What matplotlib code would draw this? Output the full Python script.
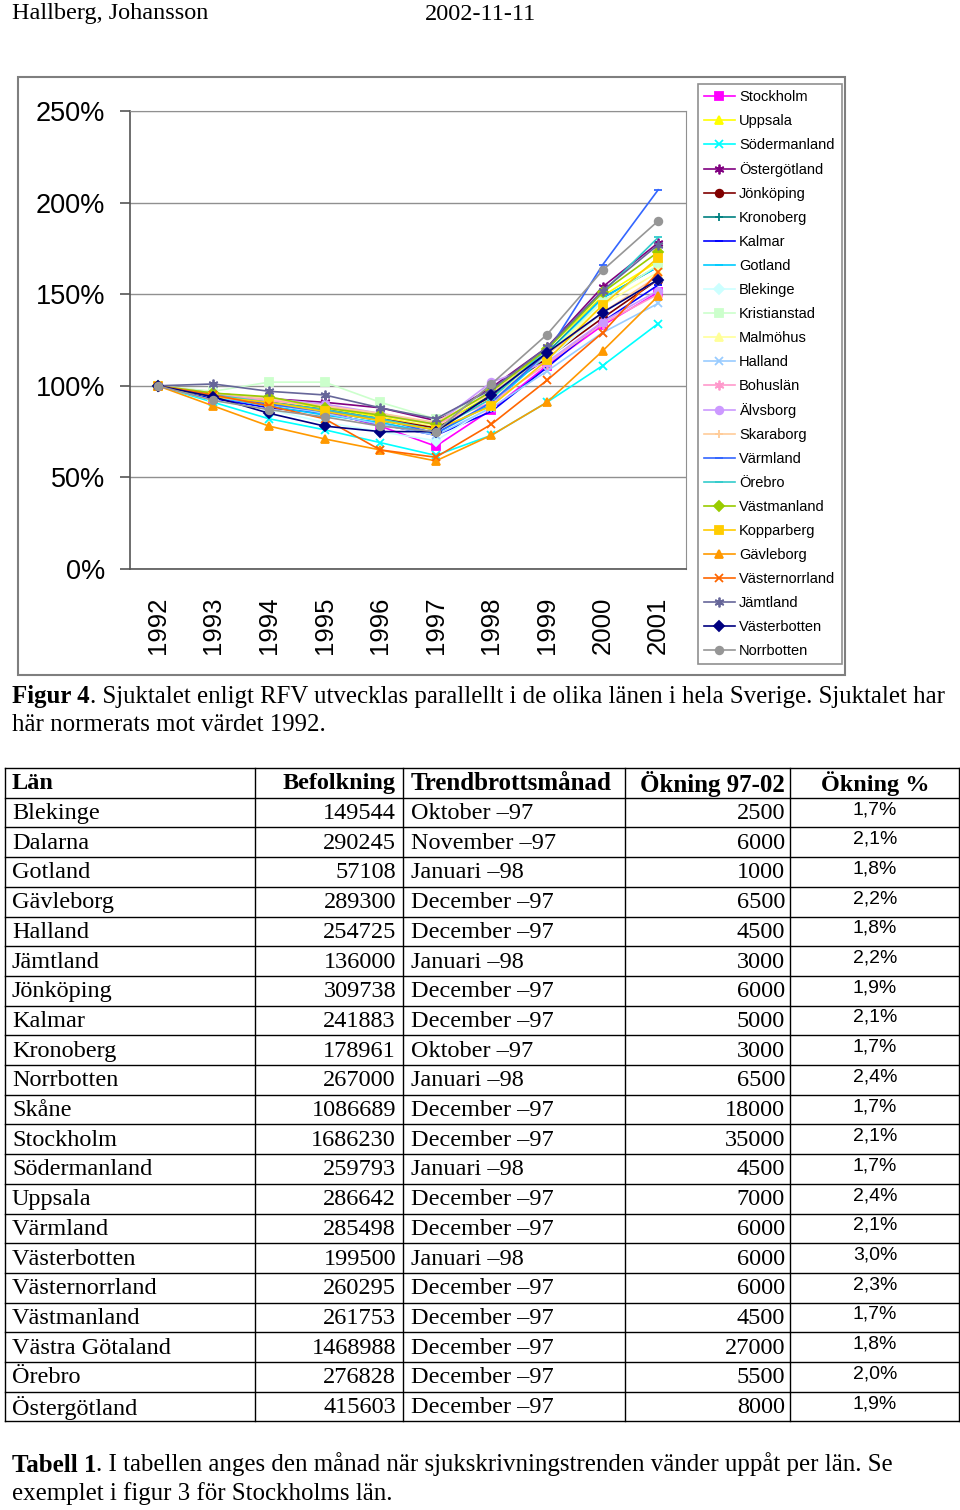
import numpy as np
import matplotlib
matplotlib.use('Agg')
import matplotlib.pyplot as plt
from matplotlib.patches import Rectangle

# ------------------------------------------------------------------
# data: sick-leave rate per county, normalised to 1992 (percent)
# ------------------------------------------------------------------
years = ['1992', '1993', '1994', '1995', '1996', '1997', '1998', '1999', '2000', '2001']

counties = ['Stockholm', 'Uppsala', 'Södermanland', 'Östergötland', 'Jönköping',
            'Kronoberg', 'Kalmar', 'Gotland', 'Blekinge', 'Kristianstad',
            'Malmöhus', 'Halland', 'Bohuslän', 'Älvsborg', 'Skaraborg',
            'Värmland', 'Örebro', 'Västmanland', 'Kopparberg', 'Gävleborg',
            'Västernorrland', 'Jämtland', 'Västerbotten', 'Norrbotten']

stockholm      = [100, 93, 90, 86, 78, 67, 87, 111, 133, 151]
uppsala        = [100, 95, 92, 88, 83, 78, 95, 120, 149, 168]
sodermanland   = [100, 91, 82, 76, 69, 62, 73, 91, 111, 134]
ostergotland   = [100, 96, 93, 91, 88, 81, 99, 121, 154, 178]
jonkoping      = [100, 95, 91, 87, 82, 77, 94, 115, 137, 158]
kronoberg      = [100, 94, 90, 86, 81, 76, 95, 118, 148, 165]
kalmar         = [100, 93, 88, 85, 79, 73, 86, 110, 135, 155]
gotland        = [100, 94, 89, 84, 80, 74, 90, 117, 148, 165]
blekinge       = [100, 92, 87, 80, 75, 70, 89, 114, 140, 158]
kristianstad   = [100, 97, 102, 102, 91, 82, 96, 117, 146, 166]
malmohus       = [100, 95, 92, 89, 84, 78, 93, 117, 144, 162]
halland        = [100, 94, 90, 85, 79, 73, 88, 108, 129, 145]
bohuslan       = [100, 95, 92, 89, 84, 79, 91, 112, 134, 150]
alvsborg       = [100, 96, 93, 90, 85, 79, 102, 113, 135, 152]
skaraborg      = [100, 96, 93, 89, 85, 80, 96, 117, 140, 160]
varmland       = [100, 95, 90, 86, 82, 74, 91, 118, 166, 207]
orebro         = [100, 95, 91, 87, 82, 76, 93, 120, 151, 181]
vastmanland    = [100, 96, 94, 88, 84, 79, 97, 120, 151, 173]
kopparberg     = [100, 94, 91, 86, 81, 76, 89, 114, 144, 170]
gavleborg      = [100, 89, 78, 71, 65, 59, 73, 91, 119, 149]
vasternorrland = [100, 95, 89, 82, 65, 61, 79, 103, 129, 162]
jamtland       = [100, 101, 97, 95, 88, 82, 98, 121, 152, 177]
vasterbotten   = [100, 94, 85, 78, 75, 75, 95, 118, 140, 158]
norrbotten     = [100, 92, 87, 83, 78, 75, 101, 128, 163, 190]

series = [stockholm, uppsala, sodermanland, ostergotland, jonkoping, kronoberg,
          kalmar, gotland, blekinge, kristianstad, malmohus, halland, bohuslan,
          alvsborg, skaraborg, varmland, orebro, vastmanland, kopparberg,
          gavleborg, vasternorrland, jamtland, vasterbotten, norrbotten]

# table data
tab_header = ['Län', 'Befolkning', 'Trendbrottsmånad', 'Ökning 97-02', 'Ökning %']
tab_lan = ['Blekinge', 'Dalarna', 'Gotland', 'Gävleborg', 'Halland', 'Jämtland',
           'Jönköping', 'Kalmar', 'Kronoberg', 'Norrbotten', 'Skåne', 'Stockholm',
           'Södermanland', 'Uppsala', 'Värmland', 'Västerbotten', 'Västernorrland',
           'Västmanland', 'Västra Götaland', 'Örebro', 'Östergötland']
tab_pop = [149544, 290245, 57108, 289300, 254725, 136000, 309738, 241883, 178961,
           267000, 1086689, 1686230, 259793, 286642, 285498, 199500, 260295,
           261753, 1468988, 276828, 415603]
tab_month = ['Oktober –97', 'November –97', 'Januari –98', 'December –97',
             'December –97', 'Januari –98', 'December –97', 'December –97',
             'Oktober –97', 'Januari –98', 'December –97', 'December –97',
             'Januari –98', 'December –97', 'December –97', 'Januari –98',
             'December –97', 'December –97', 'December –97', 'December –97',
             'December –97']
tab_inc = [2500, 6000, 1000, 6500, 4500, 3000, 6000, 5000, 3000, 6500, 18000,
           35000, 4500, 7000, 6000, 6000, 6000, 4500, 27000, 5500, 8000]
tab_pct = ['1,7%', '2,1%', '1,8%', '2,2%', '1,8%', '2,2%', '1,9%', '2,1%', '1,7%',
           '2,4%', '1,7%', '2,1%', '1,7%', '2,4%', '2,1%', '3,0%', '2,3%', '1,7%',
           '1,8%', '2,0%', '1,9%']

# styles (Excel default palette / markers)
ast = (6, 2, 0)
colors = ['#FF00FF', '#FFFF00', '#00FFFF', '#800080', '#800000', '#008080',
          '#0000FF', '#00CCFF', '#CCFFFF', '#CCFFCC', '#FFFF99', '#99CCFF',
          '#FF99CC', '#CC99FF', '#FFCC99', '#3366FF', '#33CCCC', '#99CC00',
          '#FFCC00', '#FF9900', '#FF6600', '#666699', '#000080', '#969696']
markers = ['s', '^', 'x', ast, 'o', '+', '_', '_', 'D', 's', '^', 'x', ast, 'o',
           '+', '_', '_', 'D', 's', '^', 'x', ast, 'D', 'o']

serif = 'Liberation Serif'
sans = 'Liberation Sans'

W, H = 960, 1510
fig = plt.figure(figsize=(W / 100, H / 100), dpi=100)

# page axes in pixel coordinates
page = fig.add_axes([0, 0, 1, 1])
page.set_xlim(0, W)
page.set_ylim(H, 0)
page.axis('off')

page.text(12, 14, 'Hallberg, Johansson', family=serif, fontsize=17.5, va='center')
page.text(425, 14, '2002-11-11', family=serif, fontsize=17.5, va='center')

# chart frame
page.add_patch(Rectangle((18, 77), 827, 598, fill=False, ec='#7f7f7f', lw=1.5))

# ------------------------------------------------------------------
# chart
# ------------------------------------------------------------------
ax = fig.add_axes([130 / W, 1 - 569 / H, 556 / W, 458 / H])
x = np.arange(len(years))
for vals, name, c, m in zip(series, counties, colors, markers):
    ms = 7 if m == ast else 5.5
    ax.plot(x, vals, color=c, marker=m, ms=ms, mew=1.3, lw=1.2, label=name)

ax.set_xlim(-0.5, len(years) - 0.5)
ax.set_ylim(0, 250)
ax.set_yticks(np.arange(0, 251, 50))
ax.set_yticklabels(['%d%%' % v for v in range(0, 251, 50)], family=sans, fontsize=19.5)
ax.set_xticks(x)
ax.set_xticklabels(years, rotation=90, family=sans, fontsize=18.5, va='top')
ax.tick_params(axis='x', length=0, pad=20)
ax.tick_params(axis='y', length=7, width=1.2, color='#555555', pad=11)
ax.yaxis.grid(True, color='#909090', lw=1)
ax.set_axisbelow(True)
for s in ['top', 'right']:
    ax.spines[s].set_color('#909090')
for s in ['left', 'bottom']:
    ax.spines[s].set_color('#555555')
    ax.spines[s].set_linewidth(1.2)

leg = ax.legend(loc='upper left', bbox_to_anchor=(698 / W, 1 - 84 / H),
                bbox_transform=fig.transFigure, borderaxespad=0, fancybox=False,
                edgecolor='#909090', framealpha=1, prop={'family': sans, 'size': 10.5},
                labelspacing=0.685, handlelength=2.1, handletextpad=0.3,
                borderpad=0.42)
leg.get_frame().set_linewidth(1.2)

# figure caption
cfs = 17.9
t = page.text(12, 697, 'Figur 4', family=serif, fontsize=cfs, weight='bold', va='center')
page.annotate('. Sjuktalet enligt RFV utvecklas parallellt i de olika länen i hela Sverige. '
              'Sjuktalet har', xy=(1, 0), xycoords=t, va='bottom',
              family=serif, fontsize=cfs)
page.text(12, 725, 'här normerats mot värdet 1992.', family=serif, fontsize=cfs, va='center')

# ------------------------------------------------------------------
# table
# ------------------------------------------------------------------
top, rh = 768, 29.7
nrows = len(tab_lan) + 1
cols = [5, 255, 403, 625, 790, 959]
bottom = top + rh * nrows
for k in range(nrows + 1):
    page.plot([cols[0], cols[-1]], [top + rh * k] * 2, color='black', lw=1)
for cx in cols:
    page.plot([cx, cx], [top, bottom], color='black', lw=1)

fs = 17.5
yc = top + rh / 2 + 1
page.text(12, yc, tab_header[0], family=serif, fontsize=fs, weight='bold', va='center')
page.text(396, yc, tab_header[1], family=serif, fontsize=fs, weight='bold', va='center', ha='right')
page.text(411, yc, tab_header[2], family=serif, fontsize=18, weight='bold', va='center')
page.text(785, yc, tab_header[3], family=serif, fontsize=18, weight='bold', va='center', ha='right')
page.text(875, yc, tab_header[4], family=serif, fontsize=fs, weight='bold', va='center', ha='center')

for i in range(len(tab_lan)):
    yc = top + rh * (i + 1) + rh / 2 + 1
    page.text(12, yc, tab_lan[i], family=serif, fontsize=fs, va='center')
    page.text(396, yc, str(tab_pop[i]), family=serif, fontsize=fs, va='center', ha='right')
    page.text(411, yc, tab_month[i], family=serif, fontsize=fs, va='center')
    page.text(785, yc, str(tab_inc[i]), family=serif, fontsize=fs, va='center', ha='right')
    page.text(875, yc - 4, tab_pct[i], family=sans, fontsize=14, va='center', ha='center')

t2 = page.text(12, 1465, 'Tabell 1', family=serif, fontsize=cfs, weight='bold', va='center')
page.annotate('. I tabellen anges den månad när sjukskrivningstrenden vänder uppåt per län. Se',
              xy=(1, 0), xycoords=t2, va='bottom', family=serif, fontsize=cfs)
page.text(12, 1494, 'exemplet i figur 3 för Stockholms län.', family=serif, fontsize=cfs, va='center')

fig.savefig('out.png', dpi=100)
